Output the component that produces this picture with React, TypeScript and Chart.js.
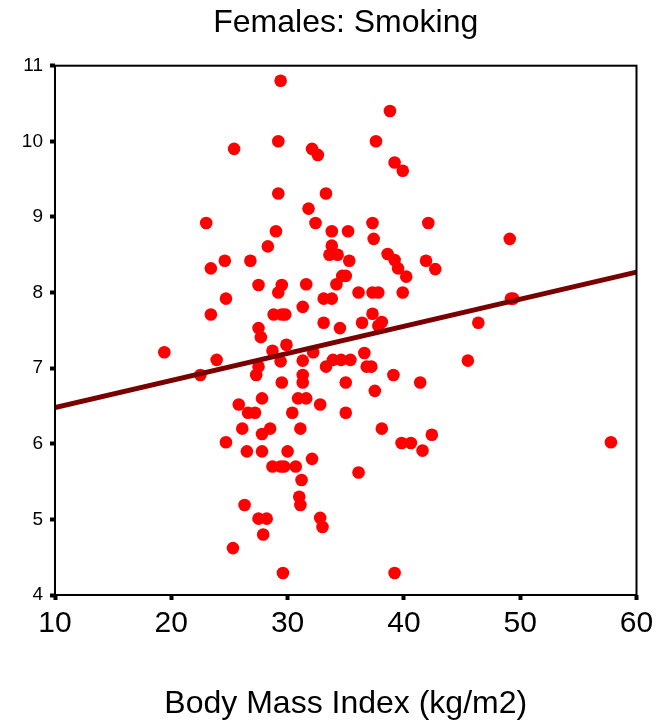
import React, { useEffect, useRef } from "react";
import { Chart, registerables } from "chart.js";

Chart.register(...registerables);

const chartTitle = "Females: Smoking";
const xAxisTitle = "Body Mass Index (kg/m2)";

const bmi = [
  29.4, 38.8, 29.2, 37.6, 25.4, 32.1, 32.6, 39.2, 39.9, 29.2,
  33.3, 31.8, 23.0, 32.4, 37.3, 42.1, 29.0, 33.8, 35.2, 37.4,
  49.1, 28.3, 33.8, 33.6, 34.3, 35.3, 23.4, 24.6, 26.8, 38.6,
  39.2, 39.5, 40.2, 41.9, 42.7, 34.7, 35.0, 27.5, 29.5, 31.6,
  34.2, 29.2, 24.7, 33.1, 33.8, 36.1, 37.3, 37.8, 39.9, 49.2,
  49.4, 31.3, 23.4, 28.8, 29.5, 29.8, 37.3, 33.1, 27.5, 27.7,
  34.5, 36.4, 38.1, 37.8, 46.4, 29.9, 28.7, 19.4, 32.2, 36.6,
  23.9, 29.4, 31.3, 33.9, 34.6, 35.4, 45.5, 27.5, 33.3, 36.8,
  37.2, 22.5, 27.3, 31.3, 31.3, 29.5, 35.0, 39.1, 37.5, 41.4,
  27.8, 30.9, 31.6, 32.8, 25.8, 26.6, 27.2, 30.4, 35.0, 26.1,
  27.8, 28.5, 31.1, 38.1, 24.7, 39.8, 40.6, 42.4, 41.6, 57.8,
  26.5, 27.8, 30.0, 32.1, 28.7, 29.4, 29.7, 30.7, 36.1, 31.2,
  31.0, 31.1, 26.3, 27.5, 28.2, 32.8, 33.0, 27.9, 25.3, 29.6,
  39.2,
];

const score = [
  10.8, 10.4, 10.0, 10.0, 9.9, 9.9, 9.82, 9.72, 9.61, 9.31,
  9.31, 9.11, 8.92, 8.92, 8.92, 8.92, 8.81, 8.81, 8.81, 8.71,
  8.71, 8.61, 8.62, 8.5, 8.5, 8.42, 8.32, 8.42, 8.42, 8.51,
  8.43, 8.32, 8.21, 8.42, 8.31, 8.22, 8.22, 8.1, 8.1, 8.11,
  8.11, 8.0, 7.92, 7.92, 7.92, 8.0, 8.0, 8.0, 8.0, 7.92,
  7.92, 7.81, 7.71, 7.71, 7.71, 7.71, 7.72, 7.6, 7.53, 7.41,
  7.53, 7.6, 7.61, 7.56, 7.6, 7.31, 7.23, 7.21, 7.21, 7.2,
  7.11, 7.09, 7.1, 7.11, 7.11, 7.11, 7.1, 7.02, 7.02, 7.02,
  7.02, 6.91, 6.91, 6.91, 6.81, 6.81, 6.81, 6.91, 6.7, 6.81,
  6.6, 6.6, 6.6, 6.52, 6.52, 6.41, 6.41, 6.41, 6.41, 6.2,
  6.13, 6.2, 6.2, 6.2, 6.02, 6.01, 6.01, 6.12, 5.91, 6.02,
  5.9, 5.9, 5.9, 5.8, 5.7, 5.7, 5.7, 5.7, 5.62, 5.52,
  5.3, 5.19, 5.19, 5.01, 5.01, 5.02, 4.9, 4.8, 4.62, 4.29,
  4.29,
];

const fitX = [10, 60];
const fitY = [6.48, 8.27];

const xTickValues = [10, 20, 30, 40, 50, 60];
const yTickValues = [4, 5, 6, 7, 8, 9, 10, 11];

const FONT = "'Liberation Sans', Arial, Helvetica, sans-serif";

const framePlugin = {
  id: "frame",
  afterDatasetsDraw(chart: any) {
    const { ctx, chartArea } = chart;
    const { left, top, right, bottom } = chartArea;
    ctx.save();
    ctx.strokeStyle = "#000";
    ctx.lineWidth = 2;
    ctx.strokeRect(left, top, right - left, bottom - top);
    ctx.restore();
  },
};

export default function App() {
  const ref = useRef<HTMLCanvasElement | null>(null);

  useEffect(() => {
    if (!ref.current) return;
    const points = bmi.map((x, i) => ({ x, y: score[i] }));
    const fit = fitX.map((x, i) => ({ x, y: fitY[i] }));

    const chart = new Chart(ref.current, {
      type: "scatter",
      data: {
        datasets: [
          {
            data: fit,
            showLine: true,
            borderColor: "#7a0000",
            borderWidth: 5,
            pointRadius: 0,
            pointHoverRadius: 0,
            fill: false,
          } as any,
          {
            data: points,
            pointRadius: 6.3,
            pointHoverRadius: 6.3,
            backgroundColor: "#ff0000",
            pointBackgroundColor: "#ff0000",
            borderWidth: 0,
            pointBorderWidth: 0,
          } as any,
        ],
      },
      options: {
        responsive: false,
        animation: false,
        events: [],
        layout: { padding: { left: 0, right: 32.5, top: 0, bottom: 0 } },
        plugins: {
          legend: { display: false },
          tooltip: { enabled: false },
          title: {
            display: true,
            fullSize: false,
            text: chartTitle,
            color: "#000",
            font: { family: FONT, size: 32, weight: "normal", lineHeight: 1.2 },
            padding: { top: 3.5, bottom: 23.8 },
          },
        },
        scales: {
          x: {
            type: "linear",
            min: 10,
            max: 60,
            afterBuildTicks: (scale: any) => {
              scale.ticks = xTickValues.map((v) => ({ value: v }));
            },
            afterFit: (scale: any) => {
              scale.height = 128;
            },
            ticks: {
              color: "#000",
              font: { family: FONT, size: 30, lineHeight: 1.2 },
              padding: 6,
              maxRotation: 0,
              autoSkip: false,
            },
            grid: {
              display: true,
              drawOnChartArea: false,
              drawTicks: true,
              tickLength: 5,
              tickWidth: 4,
              tickColor: "#000",
            },
            border: { display: false },
            title: {
              display: true,
              text: xAxisTitle,
              color: "#000",
              font: { family: FONT, size: 32, lineHeight: 1.2 },
              padding: { top: 0, bottom: 0 },
            },
          },
          y: {
            type: "linear",
            min: 4,
            max: 11,
            afterBuildTicks: (scale: any) => {
              scale.ticks = yTickValues.map((v) => ({ value: v }));
            },
            afterFit: (scale: any) => {
              scale.width = 55;
            },
            ticks: {
              color: "#000",
              font: { family: FONT, size: 19, lineHeight: 1.2 },
              padding: 7,
              autoSkip: false,
            },
            grid: {
              display: true,
              drawOnChartArea: false,
              drawTicks: true,
              tickLength: 5,
              tickWidth: 4,
              tickColor: "#000",
            },
            border: { display: false },
          },
        },
      },
      plugins: [framePlugin],
    } as any);

    return () => chart.destroy();
  }, []);

  return (
    <div style={{ position: "absolute", left: 0, top: 0, width: 669, height: 723, background: "#fff" }}>
      <canvas ref={ref} width={669} height={723} style={{ display: "block", width: 669, height: 723 }} />
    </div>
  );
}
